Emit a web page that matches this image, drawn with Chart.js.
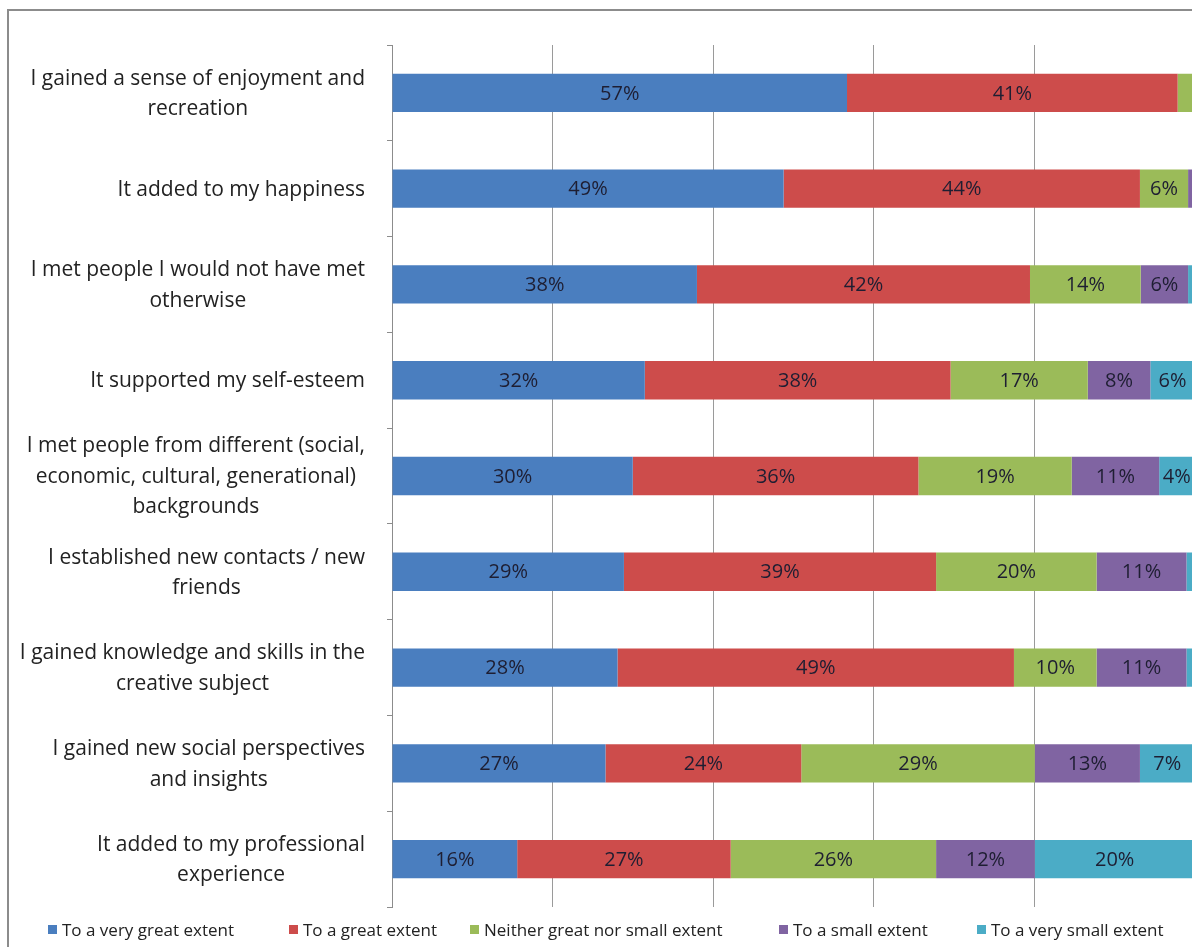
<!DOCTYPE html>
<html>
<head>
<meta charset="utf-8">
<script src="https://cdn.jsdelivr.net/npm/chart.js@4.4.1/dist/chart.umd.min.js"></script>
<style>
  html, body { margin: 0; padding: 0; background: #fff; overflow: hidden; width: 1192px; height: 947px; }
  #frame { position: absolute; left: 7px; top: 9px; width: 1300px; height: 1000px;
           border-left: 2px solid #8c8c8c; border-top: 2px solid #8c8c8c; box-sizing: border-box; }
  #wrap { position: absolute; left: 0; top: 0; width: 1200px; height: 947px; }
  #legend { position: absolute; left: 0; top: 917px; width: 1192px; height: 24px;
            font-family: "Open Sans", Lato, sans-serif; font-size: 17px; color: #222; white-space: nowrap; }
  #legend .item { position: absolute; top: 0; display: flex; align-items: center; height: 24px; }
  #legend .box { width: 9px; height: 9px; margin-right: 5px; }
</style>
</head>
<body>
<div id="frame"></div>
<div id="wrap"><canvas id="c"></canvas></div>
<div id="legend"></div>
<script>
const categories = [
  ["I gained a sense of enjoyment and", "recreation"],
  ["It added to my happiness"],
  ["I met people I would not have met", "otherwise"],
  ["It supported my self-esteem"],
  ["I met people from different (social,", "economic, cultural, generational)", "backgrounds"],
  ["I established new contacts / new", "friends"],
  ["I gained knowledge and skills in the", "creative subject"],
  ["I gained new social perspectives", "and insights"],
  ["It added to my professional", "experience"]
];
const seriesNames = [
  "To a very great extent",
  "To a great extent",
  "Neither great nor small extent",
  "To a small extent",
  "To a very small extent"
];
const veryGreat   = [56.7, 48.8, 38.0, 31.5, 30.0, 28.9, 28.1, 26.6, 15.6];
const great       = [41.2, 44.4, 41.5, 38.1, 35.6, 38.9, 49.4, 24.4, 26.6];
const neither     = [ 2.1,  6.0, 13.8, 17.1, 19.1, 20.0, 10.3, 29.1, 25.6];
const small       = [ 0.0,  0.8,  5.9,  7.8, 10.9, 11.2, 11.2, 13.1, 12.3];
const verySmall   = [ 0.0,  0.0,  0.8,  5.5,  4.4,  1.0,  1.0,  6.8, 19.9];
const xTicks = [0, 20, 40, 60, 80, 100];
const colors = ["#4a7ebf", "#cd4c4b", "#9bbb59", "#8064a2", "#4bacc6"];

const seriesValues = [veryGreat, great, neither, small, verySmall];
const FONT = '"Open Sans", Lato, sans-serif';

const labelPlugin = {
  id: 'customLabels',
  afterDatasetsDraw(chart) {
    const ctx = chart.ctx;
    ctx.save();
    // data labels
    ctx.font = '20px ' + FONT;
    ctx.fillStyle = '#1e1e32';
    ctx.textAlign = 'center';
    ctx.textBaseline = 'middle';
    chart.data.datasets.forEach((ds, di) => {
      const meta = chart.getDatasetMeta(di);
      meta.data.forEach((bar, i) => {
        const v = ds.data[i];
        if (v < 3) return;
        const p = bar.getProps(['x', 'y', 'base']);
        ctx.fillText(Math.round(v) + '%', (p.x + p.base) / 2, p.y + 1);
      });
    });
    // category labels
    const ys = chart.scales.y;
    ctx.font = '21px ' + FONT;
    ctx.fillStyle = '#222';
    const right = 365, lh = 30.5;
    chart.data.labels.forEach((lines, i) => {
      const yc = ys.getPixelForValue(i);
      let w = 0;
      lines.forEach(l => { w = Math.max(w, ctx.measureText(l).width); });
      const cx = right - w / 2;
      lines.forEach((l, j) => {
        ctx.fillText(l, cx, yc + 1 + (j - (lines.length - 1) / 2) * lh);
      });
    });
    ctx.restore();
  }
};

new Chart(document.getElementById('c'), {
  type: 'bar',
  data: {
    labels: categories,
    datasets: seriesNames.map((n, k) => ({
      label: n,
      data: seriesValues[k],
      backgroundColor: colors[k],
      borderWidth: 0,
      barPercentage: 0.4,
      categoryPercentage: 1.0
    }))
  },
  options: {
    indexAxis: 'y',
    responsive: true,
    maintainAspectRatio: false,
    animation: false,
    layout: { padding: { left: 0, right: 5.5, top: 45, bottom: 40 } },
    plugins: { legend: { display: false }, tooltip: { enabled: false } },
    scales: {
      x: {
        stacked: true, min: 0, max: 100,
        afterBuildTicks: (s) => { s.ticks = xTicks.map(v => ({ value: v })); },
        ticks: { display: false },
        grid: { color: '#9a9a9a', lineWidth: 1, drawTicks: false },
        border: { display: false }
      },
      y: {
        stacked: true,
        ticks: { display: false },
        grid: { offset: true, drawOnChartArea: false, drawTicks: true, tickLength: 5, color: '#8c8c8c' },
        border: { display: true, color: '#8c8c8c', width: 1 },
        afterFit: (s) => { s.width = 392; }
      }
    }
  },
  plugins: [labelPlugin]
});

// legend (HTML)
const leg = document.getElementById('legend');
const legendX = [48, 289, 470, 779, 977];
seriesNames.forEach((n, k) => {
  const it = document.createElement('div');
  it.className = 'item';
  it.style.left = legendX[k] + 'px';
  const b = document.createElement('span');
  b.className = 'box';
  b.style.background = colors[k];
  const t = document.createElement('span');
  t.textContent = n;
  it.appendChild(b); it.appendChild(t);
  leg.appendChild(it);
});
</script>
</body>
</html>
